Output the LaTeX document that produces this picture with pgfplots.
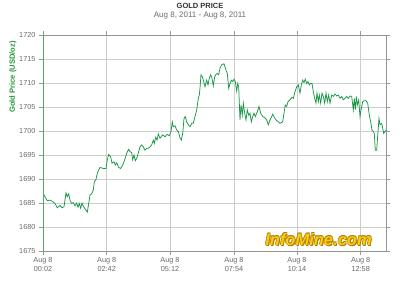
\documentclass[border=0pt]{standalone}
\usepackage{pgfplots}
\pgfplotsset{compat=1.18}
\usepackage{fontspec}
\setmainfont{Liberation Sans}
\definecolor{linegreen}{RGB}{25,150,70}
\definecolor{axgreen}{RGB}{90,160,105}
\definecolor{gridgray}{RGB}{205,205,205}
\definecolor{labgreen}{RGB}{40,150,60}
\definecolor{ticklab}{RGB}{105,105,105}
\definecolor{gold1}{RGB}{250,205,20}
\definecolor{gold2}{RGB}{175,125,0}
\begin{document}
\begin{tikzpicture}
\path[use as bounding box] (0pt,0pt) rectangle (400pt,286pt);
\begin{axis}[
  at={(43pt,35pt)}, anchor=south west,
  width=343pt, height=216pt, scale only axis,
  xmin=0, xmax=343, ymin=1675, ymax=1720,
  ytick={1675,1680,...,1720},
  xtick={0,63.7,127,191,254,317.7},
  xticklabels={{Aug 8\\00:02},{Aug 8\\02:42},{Aug 8\\05:12},{Aug 8\\07:54},{Aug 8\\10:14},{Aug 8\\12:58}},
  xticklabel style={align=center, yshift=1.5pt},
  grid=major, major grid style={gridgray, line width=0.8pt},
  axis line style={gray!85, line width=0.8pt},
  tick align=outside, major tick length=4pt,
  tick style={gray!80, line width=0.6pt},
  tick label style={font=\fontsize{7.3}{9.3}\selectfont, text=ticklab},
  /pgf/number format/assume math mode=true,
  /pgf/number format/1000 sep={},
  clip=false,
]
\addplot[linegreen, line width=0.75pt, mark=none] coordinates {
(0.3,1686.9)(2,1686.3)(4.3,1685.5)(7,1685.6)(9.7,1685.3)(12,1684.9)(14.3,1684.0)(17,1684.5)(19,1684.0)(21,1684.2)
(23,1687.1)(24.3,1686.3)(25.7,1686.9)(27,1685.6)(28.7,1684.9)(30.3,1685.1)(32,1684.4)(33.7,1685.0)(35,1684.1)(36.3,1684.9)
(37.7,1683.9)(39,1685.0)(40.7,1684.2)(42.3,1683.7)(44.3,1683.1)(45.7,1684.9)(47,1686.7)(48.7,1686.9)(50.3,1687.7)(51.3,1689.4)
(53,1689.9)(54.3,1691.2)(55.7,1691.9)
(57,1692.4)(60.3,1692.2)(63,1692.2)(64.3,1694.0)(65.7,1695.1)(67.7,1694.6)(69,1693.3)(71,1693.6)(72.3,1692.9)(73.7,1693.4)
(75.7,1692.4)(77.7,1692.2)(79.7,1692.9)(81.7,1694.0)(83.7,1695.4)(85.7,1696.2)(87,1695.7)(88.7,1695.5)(89.7,1694.0)(91,1695.0)
(92.3,1693.8)(93.7,1694.3)(95.3,1695.4)(97,1696.7)(98.7,1697.1)(100.3,1696.7)(102,1696.0)(103.7,1696.4)(105.3,1696.4)(107,1696.7)
(108.7,1697.1)(110.3,1698.1)(111.3,1697.4)(112.7,1698.7)(114,1698.1)(115.3,1699.4)
(117,1698.5)(119.7,1699.2)(122,1698.8)(124.3,1699.3)(126.3,1699.0)(128,1699.9)(129.3,1701.9)(130.3,1700.9)(132,1701.1)(133.7,1700.2)
(135.3,1699.9)(137,1698.6)(138.3,1698.1)(139.7,1699.5)(141,1702.6)(142.3,1703.0)(143.7,1701.9)(145.3,1701.3)(147,1700.9)(148.7,1701.6)
(150.3,1701.6)(152,1703.0)(153.7,1704.4)(155.3,1706.8)(156.3,1707.5)(157,1708.9)(158,1711.7)(159.3,1711.3)(160.7,1710.3)(162,1709.2)
(163.7,1710.6)(165,1709.6)(166.3,1711.0)(167.7,1711.7)(169,1711.0)(170.3,1709.4)(171.7,1711.3)(173,1711.8)(174.3,1712.0)(175.7,1711.7)
(177,1713.1)(178.7,1713.8)(181,1714.0)(183,1712.7)(184.3,1712.0)(185.7,1708.9)(187,1709.9)(188.3,1710.6)(189.7,1710.3)(191,1710.8)
(192.3,1710.3)(193.7,1708.3)(194.7,1709.9)(195.7,1709.2)(197,1702.3)(198,1705.4)(199.3,1703.3)(200.3,1705.8)(201.7,1703.7)(203,1702.3)
(204.3,1704.4)(205.7,1703.3)(207,1703.7)(208.3,1701.9)(209.7,1703.0)(211,1703.7)(212.3,1703.0)(214.3,1704.0)(216,1705.1)(217.7,1703.7)
(219.7,1703.0)(221.7,1702.8)(223.7,1702.3)(225.3,1701.3)(227,1702.3)(228.7,1703.0)(229.7,1703.5)(231,1703.0)(233,1702.3)(235.3,1701.9)
(237,1701.6)(239.7,1701.9)(241,1703.7)(242.3,1705.4)(243.7,1705.1)(245,1706.1)(247,1706.5)(249,1707.0)(250.3,1706.8)(252,1708.2)
(253.7,1709.2)(255.3,1709.6)(257,1707.9)(258.3,1709.6)(259.7,1710.6)(261,1710.1)(262.3,1710.8)(263.7,1709.9)(265,1710.3)(266.3,1709.6)
(267.7,1709.9)(269,1709.9)(270.3,1708.2)(271.7,1706.8)(273,1705.8)(274,1707.9)(275.3,1706.1)(276.3,1707.5)(277.7,1705.8)(279,1707.9)
(280.3,1707.2)(281.7,1705.8)(283,1707.9)(284.3,1706.1)(285.7,1707.5)
(287,1705.8)(288.7,1707.5)(290.3,1707.2)(292,1707.7)(293.7,1707.3)(295.3,1707.5)(297,1706.8)(298.7,1707.2)(300.3,1706.5)(302,1706.8)
(303.7,1707.2)(305.3,1706.8)(307,1707.3)(308.7,1707.2)(310.3,1704.4)(311.3,1706.8)(312.3,1704.4)(313.3,1707.2)(314.3,1705.4)(315.7,1706.5)
(317,1703.0)(318.3,1704.7)(319.7,1706.1)(321,1706.3)(323,1706.3)(324.7,1705.8)(326.3,1703.3)(327.7,1701.9)(329,1700.2)(330.3,1699.9)
(331.3,1699.5)(332.3,1696.0)(333.7,1696.0)(335,1699.9)(336,1702.6)(337,1701.3)(338.7,1701.6)(339.7,1700.6)(340.7,1699.5)(342,1699.9)
(343,1700.2)
};
\draw[axgreen, line width=0.8pt] (rel axis cs:0,0) -- (rel axis cs:0,1);
\end{axis}
\node[font=\fontsize{7.5}{9}\selectfont\bfseries, text=black!80] at (200pt,280pt) {GOLD PRICE};
\node[font=\fontsize{8}{9}\selectfont, text=ticklab] at (200pt,270.3pt) {Aug 8, 2011 - Aug 8, 2011};
\node[rotate=90, font=\fontsize{7.6}{9}\selectfont\bfseries, text=labgreen] at (13pt,209pt) {Gold Price (USD/oz)};
\foreach \dx/\dy in {0.7/-0.7,-0.5/0.5,0.5/0.5,-0.5/-0.5,0.9/-0.9}{
  \node[font=\fontsize{16.5}{18}\selectfont\bfseries\itshape, text=gold2] at ({318.5pt+\dx pt},{46.5pt+\dy pt}) {InfoMine.com};
}
\node[font=\fontsize{16.5}{18}\selectfont\bfseries\itshape, text=gold1] at (318.5pt,46.5pt) {InfoMine.com};
\end{tikzpicture}
\end{document}
